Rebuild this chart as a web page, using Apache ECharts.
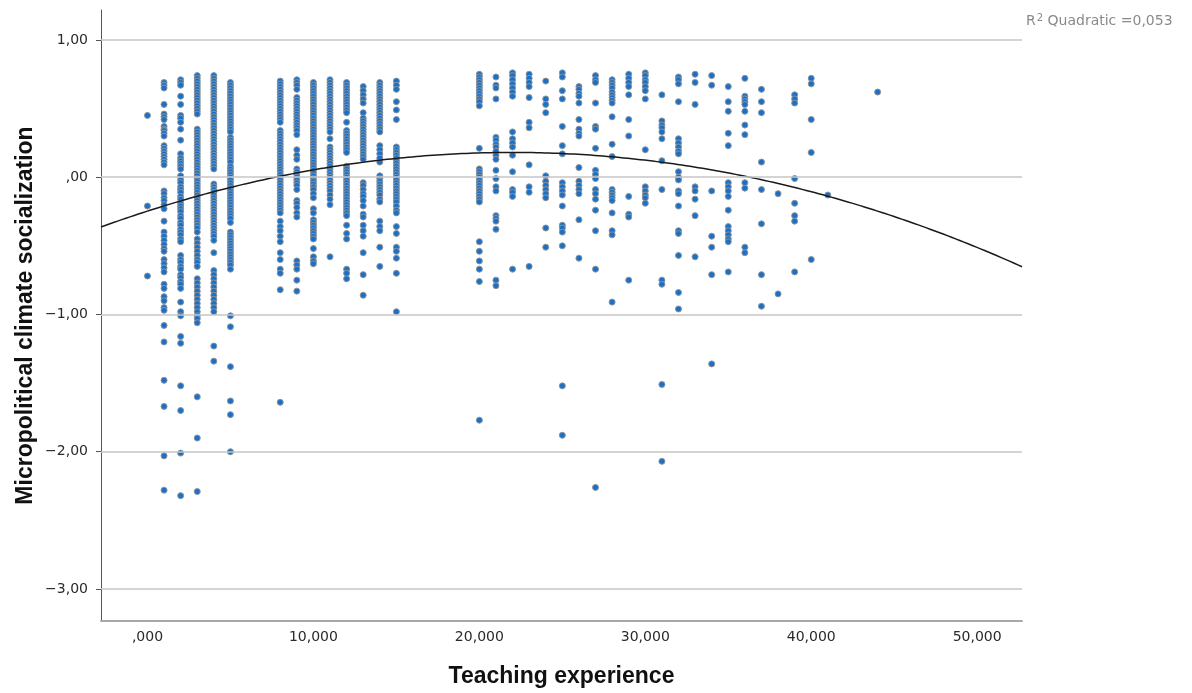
<!DOCTYPE html>
<html>
<head>
<meta charset="utf-8">
<title>Teaching experience vs. micropolitical climate socialization</title>
<script src="https://cdn.jsdelivr.net/npm/echarts@6/dist/echarts.min.js"></script>
<style>
  html, body { margin: 0; padding: 0; background: #ffffff; }
  #chart { width: 1192px; height: 693px; }
</style>
</head>
<body>
<div id="chart"></div>
<script>
// Axis ticks and their printed labels (comma decimal separator)
const xTickValues = [0, 10, 20, 30, 40, 50];
const xTickLabels = [',000', '10,000', '20,000', '30,000', '40,000', '50,000'];
const yTickValues = [1, 0, -1, -2, -3];
const yTickLabels = ['1,00', ',00', '\u22121,00', '\u22122,00', '\u22123,00'];

// Scores per year of teaching experience
const exp0  = [0.45, -0.21, -0.72];
const exp1  = [0.69, 0.67, 0.65, 0.53, 0.46, 0.44, 0.42, 0.37, 0.35, 0.34, 0.32, 0.30, 0.23, 0.21, 0.19, 0.17, 0.15, 0.13, 0.11, 0.09,
               -0.10, -0.12, -0.15, -0.17, -0.20, -0.23, -0.32, -0.40, -0.43, -0.46, -0.49, -0.52, -0.54, -0.60, -0.63, -0.66, -0.69,
               -0.78, -0.81, -0.87, -0.90, -0.95, -0.97, -1.08, -1.20, -1.48, -1.67, -2.03, -2.28];
const exp2  = [0.71, 0.69, 0.67, 0.59, 0.53, 0.45, 0.43, 0.40, 0.35, 0.27, 0.17, 0.14, 0.12, 0.10, 0.08, 0.06, 0.01, -0.02, -0.04,
               -0.07, -0.09, -0.11, -0.14, -0.16, -0.19, -0.21, -0.23, -0.25, -0.28, -0.30, -0.33, -0.35, -0.38, -0.40, -0.42, -0.45,
               -0.47, -0.57, -0.60, -0.62, -0.65, -0.67, -0.71, -0.73, -0.76, -0.78, -0.81, -0.91, -0.98, -1.01, -1.16, -1.21,
               -1.52, -1.70, -2.01, -2.32];
const exp3  = [0.74, 0.72, 0.70, 0.68, 0.66, 0.64, 0.62, 0.60, 0.58, 0.56, 0.54, 0.52, 0.50, 0.48, 0.46,
               0.35, 0.33, 0.31, 0.29, 0.27, 0.25, 0.23, 0.21, 0.19, 0.17, 0.15, 0.13, 0.11, 0.09, 0.07, 0.05, 0.03, 0.01,
               -0.01, -0.03, -0.05, -0.07, -0.09, -0.11, -0.13, -0.15, -0.17, -0.19, -0.21, -0.23, -0.25, -0.27, -0.29, -0.31,
               -0.33, -0.35, -0.37, -0.40, -0.45, -0.48, -0.51, -0.54, -0.57, -0.60, -0.62, -0.65,
               -0.74, -0.77, -0.80, -0.83, -0.86, -0.89, -0.92, -0.95, -0.98, -1.01, -1.03, -1.06, -1.60, -1.90, -2.29];
const exp4  = [0.74, 0.72, 0.70, 0.68, 0.66, 0.64, 0.62, 0.60, 0.58, 0.56, 0.54, 0.52, 0.50, 0.48, 0.46, 0.44, 0.42, 0.40,
               0.38, 0.36, 0.34, 0.32, 0.30, 0.28, 0.26, 0.24, 0.22, 0.20, 0.18, 0.16, 0.14, 0.12, 0.10, 0.08, 0.06,
               -0.05, -0.07, -0.09, -0.11, -0.13, -0.15, -0.17, -0.19, -0.21, -0.23, -0.25, -0.27, -0.29, -0.31, -0.33, -0.35,
               -0.37, -0.39, -0.41, -0.43, -0.46, -0.55, -0.68, -0.71, -0.74, -0.77, -0.80, -0.83, -0.86, -0.89, -0.92,
               -0.95, -0.98, -1.23, -1.34];
const exp5  = [0.69, 0.67, 0.65, 0.63, 0.61, 0.59, 0.57, 0.55, 0.53, 0.51, 0.49, 0.47, 0.45, 0.43, 0.41, 0.39, 0.37, 0.35, 0.33,
               0.29, 0.27, 0.25, 0.23, 0.21, 0.19, 0.17, 0.15, 0.13, 0.11, 0.08, 0.06, 0.04, 0.02, 0.00, -0.02, -0.04, -0.06,
               -0.08, -0.10, -0.12, -0.14, -0.16, -0.18, -0.20, -0.22, -0.24, -0.26, -0.28, -0.30, -0.33,
               -0.40, -0.42, -0.44, -0.46, -0.48, -0.50, -0.52, -0.54, -0.56, -0.58, -0.60, -0.62, -0.64, -0.67,
               -1.01, -1.09, -1.38, -1.63, -1.73, -2.00];
const exp8  = [0.70, 0.68, 0.66, 0.64, 0.62, 0.60, 0.58, 0.56, 0.54, 0.52, 0.50, 0.48, 0.46, 0.44, 0.42, 0.40,
               0.34, 0.32, 0.30, 0.28, 0.26, 0.24, 0.22, 0.20, 0.18, 0.16, 0.14, 0.12, 0.10, 0.08, 0.06, 0.04, 0.02, 0.00,
               -0.02, -0.04, -0.06, -0.08, -0.10, -0.12, -0.14, -0.16, -0.18, -0.20, -0.22, -0.24, -0.26,
               -0.32, -0.36, -0.39, -0.43, -0.47, -0.55, -0.60, -0.67, -0.70, -0.82, -1.64];
const exp9  = [0.71, 0.69, 0.67, 0.64, 0.58, 0.56, 0.54, 0.52, 0.50, 0.48, 0.46, 0.44, 0.42, 0.40, 0.38, 0.36, 0.34, 0.31,
               0.20, 0.16, 0.13, 0.06, 0.04, 0.02, 0.00, -0.02, -0.04, -0.06, -0.09, -0.17, -0.19, -0.22, -0.26, -0.29,
               -0.61, -0.64, -0.67, -0.75, -0.83];
const exp10 = [0.69, 0.67, 0.65, 0.63, 0.61, 0.59, 0.57, 0.55, 0.53, 0.51, 0.49, 0.47, 0.45, 0.43, 0.41, 0.39, 0.37, 0.35,
               0.33, 0.31, 0.29, 0.27, 0.25, 0.23, 0.21, 0.19, 0.17, 0.15, 0.13, 0.11, 0.09, 0.07, 0.05, 0.03, 0.01,
               -0.01, -0.03, -0.05, -0.07, -0.09, -0.12, -0.15, -0.23, -0.26, -0.31, -0.33, -0.35, -0.37, -0.39, -0.41,
               -0.43, -0.45, -0.52, -0.58, -0.61, -0.63];
const exp11 = [0.71, 0.69, 0.67, 0.65, 0.63, 0.61, 0.59, 0.57, 0.55, 0.53, 0.51, 0.49, 0.47, 0.45, 0.43, 0.41, 0.39, 0.37,
               0.35, 0.33, 0.28, 0.22, 0.20, 0.18, 0.16, 0.14, 0.12, 0.10, 0.08, 0.06, 0.04, 0.02, 0.00, -0.02, -0.04,
               -0.06, -0.08, -0.10, -0.13, -0.16, -0.20, -0.58];
const exp12 = [0.69, 0.67, 0.65, 0.63, 0.61, 0.59, 0.57, 0.55, 0.53, 0.51, 0.49, 0.47, 0.40, 0.34, 0.32, 0.30, 0.28, 0.26,
               0.24, 0.22, 0.20, 0.18, 0.08, 0.06, 0.04, 0.02, 0.00, -0.02, -0.04, -0.06, -0.08, -0.10, -0.12, -0.14,
               -0.16, -0.18, -0.20, -0.22, -0.24, -0.26, -0.28, -0.35, -0.41, -0.45, -0.67, -0.70, -0.74];
const exp13 = [0.66, 0.63, 0.60, 0.57, 0.54, 0.47, 0.43, 0.41, 0.39, 0.37, 0.35, 0.33, 0.31, 0.29, 0.27, 0.25, 0.23, 0.21,
               0.19, 0.17, 0.15, 0.13, -0.04, -0.06, -0.09, -0.12, -0.14, -0.17, -0.21, -0.27, -0.29, -0.35, -0.39, -0.43,
               -0.55, -0.71, -0.86];
const exp14 = [0.69, 0.67, 0.65, 0.63, 0.61, 0.59, 0.57, 0.55, 0.53, 0.51, 0.49, 0.47, 0.45, 0.43, 0.41, 0.39, 0.37, 0.35,
               0.33, 0.23, 0.20, 0.17, 0.14, 0.11, 0.01, -0.01, -0.03, -0.05, -0.07, -0.09, -0.11, -0.13, -0.16, -0.18,
               -0.32, -0.36, -0.39, -0.51, -0.65];
const exp15 = [0.70, 0.67, 0.64, 0.55, 0.49, 0.42, 0.22, 0.20, 0.18, 0.16, 0.14, 0.12, 0.10, 0.08, 0.06, 0.04, 0.02, 0.00,
               -0.02, -0.04, -0.06, -0.08, -0.10, -0.12, -0.14, -0.16, -0.18, -0.21, -0.24, -0.26, -0.36, -0.41, -0.51,
               -0.54, -0.59, -0.70, -0.98];
const exp20 = [0.75, 0.73, 0.71, 0.69, 0.67, 0.65, 0.63, 0.61, 0.59, 0.57, 0.55, 0.52, 0.21, 0.06, 0.04, 0.02, 0.00,
               -0.02, -0.04, -0.06, -0.08, -0.10, -0.12, -0.14, -0.16, -0.18, -0.47, -0.54, -0.61, -0.67, -0.76, -1.77];
const exp21 = [0.73, 0.67, 0.65, 0.57, 0.29, 0.27, 0.24, 0.22, 0.19, 0.16, 0.13, 0.05, -0.01, -0.07, -0.10, -0.28, -0.30,
               -0.32, -0.38, -0.75, -0.79];
const exp22 = [0.76, 0.74, 0.71, 0.68, 0.65, 0.62, 0.59, 0.33, 0.28, 0.25, 0.22, 0.16, 0.04, -0.09, -0.11, -0.14, -0.67];
const exp23 = [0.75, 0.72, 0.69, 0.66, 0.58, 0.40, 0.36, 0.09, -0.07, -0.11, -0.65];
const exp24 = [0.70, 0.57, 0.53, 0.47, 0.01, -0.03, -0.06, -0.09, -0.12, -0.15, -0.37, -0.51];
const exp25 = [0.76, 0.73, 0.63, 0.57, 0.37, 0.23, 0.17, -0.04, -0.07, -0.10, -0.13, -0.21, -0.35, -0.37, -0.40, -0.50,
               -1.52, -1.88];
const exp26 = [0.66, 0.64, 0.61, 0.59, 0.54, 0.42, 0.35, 0.32, 0.30, 0.07, -0.03, -0.06, -0.09, -0.12, -0.31, -0.59];
const exp27 = [0.74, 0.71, 0.69, 0.54, 0.37, 0.35, 0.21, 0.05, 0.02, -0.01, -0.09, -0.12, -0.16, -0.24, -0.39, -0.67, -2.26];
const exp28 = [0.71, 0.69, 0.67, 0.65, 0.62, 0.60, 0.58, 0.56, 0.54, 0.44, 0.24, 0.15, -0.09, -0.11, -0.13, -0.15, -0.17,
               -0.26, -0.39, -0.42, -0.91];
const exp29 = [0.75, 0.72, 0.69, 0.66, 0.60, 0.42, 0.30, -0.14, -0.27, -0.29, -0.75];
const exp30 = [0.76, 0.74, 0.71, 0.69, 0.66, 0.63, 0.57, 0.20, -0.07, -0.10, -0.13, -0.15, -0.19];
const exp31 = [0.60, 0.41, 0.38, 0.36, 0.33, 0.28, 0.12, -0.09, -0.75, -0.78, -1.51, -2.07];
const exp32 = [0.73, 0.71, 0.68, 0.55, 0.28, 0.25, 0.22, 0.19, 0.17, 0.04, 0.00, -0.02, -0.10, -0.12, -0.21, -0.39, -0.41,
               -0.57, -0.84, -0.96];
const exp33 = [0.75, 0.69, 0.53, -0.07, -0.10, -0.16, -0.28, -0.58];
const exp34 = [0.74, 0.67, -0.10, -0.43, -0.51, -0.71, -1.36];
const exp35 = [0.66, 0.55, 0.48, 0.32, 0.23, -0.04, -0.07, -0.10, -0.14, -0.24, -0.36, -0.39, -0.42, -0.45, -0.47, -0.69];
const exp36 = [0.72, 0.59, 0.57, 0.55, 0.53, 0.48, 0.38, 0.31, -0.04, -0.08, -0.51, -0.55];
const exp37 = [0.64, 0.55, 0.47, 0.11, -0.09, -0.34, -0.71, -0.94];
const exp38 = [-0.12, -0.85];
const exp39 = [0.60, 0.57, 0.54, -0.01, -0.19, -0.28, -0.32, -0.69];
const exp40 = [0.72, 0.68, 0.42, 0.18, -0.60];
const exp41 = [-0.13];
const exp44 = [0.62];

const years  = [0, 1, 2, 3, 4, 5, 8, 9, 10, 11, 12, 13, 14, 15, 20, 21, 22, 23, 24, 25, 26, 27, 28, 29, 30, 31, 32, 33, 34, 35, 36, 37, 38, 39, 40, 41, 44];
const scores = [exp0, exp1, exp2, exp3, exp4, exp5, exp8, exp9, exp10, exp11, exp12, exp13, exp14, exp15, exp20, exp21, exp22,
                exp23, exp24, exp25, exp26, exp27, exp28, exp29, exp30, exp31, exp32, exp33, exp34, exp35, exp36, exp37, exp38,
                exp39, exp40, exp41, exp44];

// Quadratic fit: y = b0 + b1*x + b2*x^2
const fitCoef = [-0.247, 0.03885, -0.000883];
const fitR2 = '0,053';

const xMin = -2.8, xMax = 52.7;
const yMin = -3.233, yMax = 1.218;

const points = [];
years.forEach((yr, i) => scores[i].forEach(v => points.push([yr, v])));

const curve = [];
for (let x = xMin; x <= xMax + 1e-9; x += 0.25) {
  curve.push([x, fitCoef[0] + fitCoef[1] * x + fitCoef[2] * x * x]);
}

const chart = echarts.init(document.getElementById('chart'), null, { renderer: 'canvas' });

chart.setOption({
  animation: false,
  backgroundColor: '#ffffff',
  grid: { left: 101, right: 170, top: 10, bottom: 71, containLabel: false },
  xAxis: {
    type: 'value',
    min: xMin,
    max: xMax,
    name: 'Teaching experience',
    nameLocation: 'middle',
    nameGap: 44,
    nameMoveOverlap: false,
    nameTextStyle: { fontFamily: 'Liberation Sans', fontWeight: 700, fontSize: 23, color: '#111' },
    axisLine: { show: true, onZero: false, lineStyle: { color: '#a8a8a8', width: 2 } },
    axisTick: { show: false },
    splitLine: { show: false },
    axisLabel: {
      customValues: xTickValues,
      margin: 9,
      fontFamily: 'DejaVu Sans',
      fontSize: 14,
      color: '#2a2a2a',
      formatter: v => xTickLabels[xTickValues.indexOf(Math.round(v))]
    }
  },
  yAxis: {
    type: 'value',
    min: yMin,
    max: yMax,
    name: 'Micropolitical climate socialization',
    nameLocation: 'middle',
    nameRotate: 90,
    nameGap: 64,
    nameMoveOverlap: false,
    nameTextStyle: { fontFamily: 'Liberation Sans', fontWeight: 700, fontSize: 23, color: '#111' },
    axisLine: { show: true, onZero: false, lineStyle: { color: '#555', width: 1 } },
    axisTick: { show: true, customValues: yTickValues, length: 5, lineStyle: { color: '#555', width: 1 } },
    splitLine: { show: false },
    axisLabel: {
      customValues: yTickValues,
      margin: 13,
      fontFamily: 'DejaVu Sans',
      fontSize: 14,
      color: '#2a2a2a',
      formatter: v => yTickLabels[yTickValues.indexOf(Math.round(v))]
    }
  },
  graphic: [{
    type: 'text',
    left: 1026,
    top: 13,
    style: {
      text: '{r|R}{s|2}{r| Quadratic =' + fitR2 + '}',
      rich: {
        r: { fontFamily: 'DejaVu Sans', fontSize: 14, fill: '#8a8a8a', color: '#8a8a8a' },
        s: { fontFamily: 'DejaVu Sans', fontSize: 10, fill: '#8a8a8a', color: '#8a8a8a', verticalAlign: 'top', padding: [0, 0, 6, 1] }
      }
    }
  }],
  series: [
    {
      // horizontal reference lines at the labelled score values
      type: 'scatter',
      data: [],
      silent: true,
      z: 1,
      markLine: {
        silent: true,
        symbol: ['none', 'none'],
        label: { show: false },
        lineStyle: { color: '#c6c6c6', width: 1.5, type: 'solid' },
        data: yTickValues.map(v => ({ yAxis: v }))
      }
    },
    {
      type: 'scatter',
      data: points,
      symbol: 'circle',
      symbolSize: 6,
      z: 3,
      itemStyle: { color: '#1a70c6', borderColor: '#8a949e', borderWidth: 1, opacity: 1 },
      emphasis: { disabled: true }
    },
    {
      type: 'line',
      data: curve,
      showSymbol: false,
      smooth: false,
      clip: true,
      z: 4,
      lineStyle: { color: '#1a1a1a', width: 1.5 },
      emphasis: { disabled: true }
    }
  ]
});
</script>
</body>
</html>
